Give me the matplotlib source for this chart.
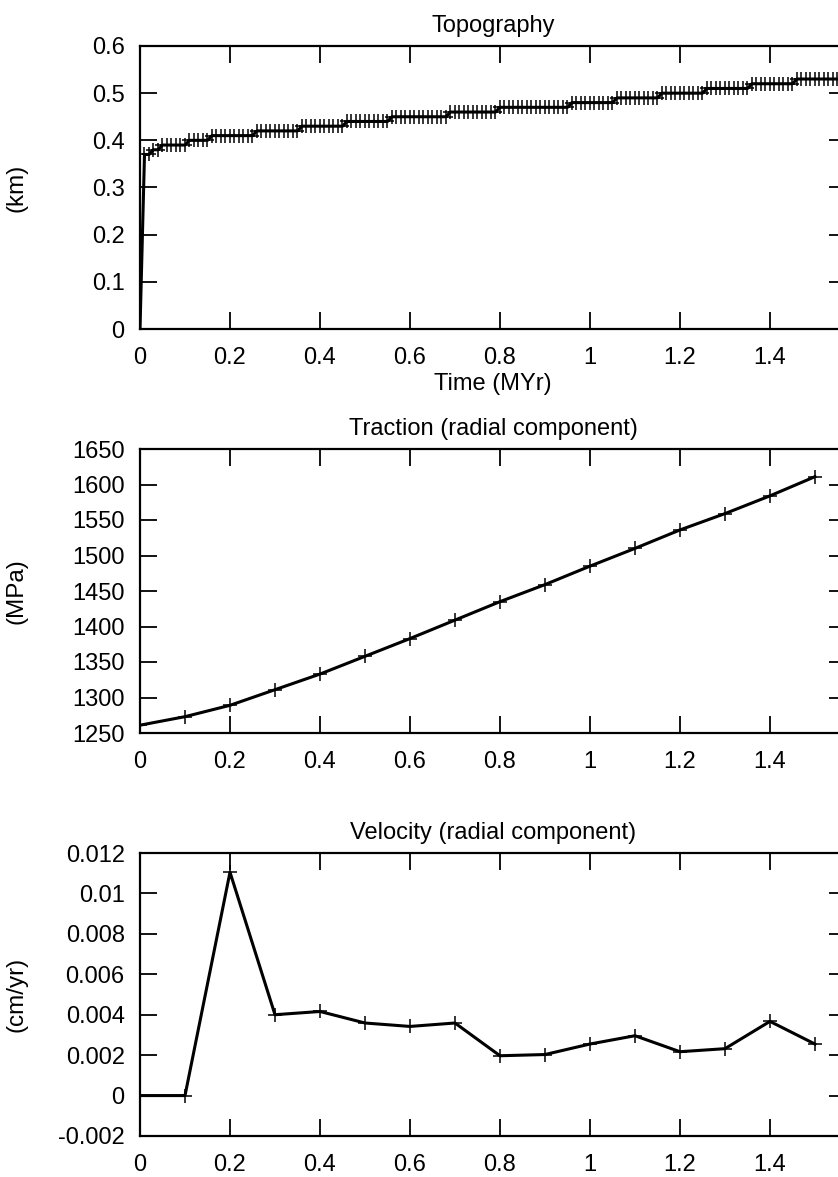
import matplotlib
matplotlib.use("Agg")
import matplotlib.pyplot as plt
from matplotlib.ticker import FuncFormatter, MultipleLocator

plt.rcParams['font.family'] = ['Liberation Sans', 'DejaVu Sans']

# ---------------- data ----------------
topo_time = [0.00, 0.01, 0.02, 0.03, 0.04, 0.05, 0.06, 0.07, 0.08, 0.09,
             0.10, 0.11, 0.12, 0.13, 0.14, 0.15, 0.16, 0.17, 0.18, 0.19,
             0.20, 0.21, 0.22, 0.23, 0.24, 0.25, 0.26, 0.27, 0.28, 0.29,
             0.30, 0.31, 0.32, 0.33, 0.34, 0.35, 0.36, 0.37, 0.38, 0.39,
             0.40, 0.41, 0.42, 0.43, 0.44, 0.45, 0.46, 0.47, 0.48, 0.49,
             0.50, 0.51, 0.52, 0.53, 0.54, 0.55, 0.56, 0.57, 0.58, 0.59,
             0.60, 0.61, 0.62, 0.63, 0.64, 0.65, 0.66, 0.67, 0.68, 0.69,
             0.70, 0.71, 0.72, 0.73, 0.74, 0.75, 0.76, 0.77, 0.78, 0.79,
             0.80, 0.81, 0.82, 0.83, 0.84, 0.85, 0.86, 0.87, 0.88, 0.89,
             0.90, 0.91, 0.92, 0.93, 0.94, 0.95, 0.96, 0.97, 0.98, 0.99,
             1.00, 1.01, 1.02, 1.03, 1.04, 1.05, 1.06, 1.07, 1.08, 1.09,
             1.10, 1.11, 1.12, 1.13, 1.14, 1.15, 1.16, 1.17, 1.18, 1.19,
             1.20, 1.21, 1.22, 1.23, 1.24, 1.25, 1.26, 1.27, 1.28, 1.29,
             1.30, 1.31, 1.32, 1.33, 1.34, 1.35, 1.36, 1.37, 1.38, 1.39,
             1.40, 1.41, 1.42, 1.43, 1.44, 1.45, 1.46, 1.47, 1.48, 1.49,
             1.50, 1.51, 1.52, 1.53, 1.54, 1.55, 1.56, 1.57]
topo_km = [0.00, 0.37, 0.37, 0.38, 0.38, 0.39, 0.39, 0.39, 0.39, 0.39,
           0.39, 0.40, 0.40, 0.40, 0.40, 0.40, 0.41, 0.41, 0.41, 0.41,
           0.41, 0.41, 0.41, 0.41, 0.41, 0.41, 0.42, 0.42, 0.42, 0.42,
           0.42, 0.42, 0.42, 0.42, 0.42, 0.42, 0.43, 0.43, 0.43, 0.43,
           0.43, 0.43, 0.43, 0.43, 0.43, 0.43, 0.44, 0.44, 0.44, 0.44,
           0.44, 0.44, 0.44, 0.44, 0.44, 0.44, 0.45, 0.45, 0.45, 0.45,
           0.45, 0.45, 0.45, 0.45, 0.45, 0.45, 0.45, 0.45, 0.45, 0.46,
           0.46, 0.46, 0.46, 0.46, 0.46, 0.46, 0.46, 0.46, 0.46, 0.46,
           0.47, 0.47, 0.47, 0.47, 0.47, 0.47, 0.47, 0.47, 0.47, 0.47,
           0.47, 0.47, 0.47, 0.47, 0.47, 0.47, 0.48, 0.48, 0.48, 0.48,
           0.48, 0.48, 0.48, 0.48, 0.48, 0.48, 0.49, 0.49, 0.49, 0.49,
           0.49, 0.49, 0.49, 0.49, 0.49, 0.49, 0.50, 0.50, 0.50, 0.50,
           0.50, 0.50, 0.50, 0.50, 0.50, 0.50, 0.51, 0.51, 0.51, 0.51,
           0.51, 0.51, 0.51, 0.51, 0.51, 0.51, 0.52, 0.52, 0.52, 0.52,
           0.52, 0.52, 0.52, 0.52, 0.52, 0.52, 0.53, 0.53, 0.53, 0.53,
           0.53, 0.53, 0.53, 0.53, 0.53, 0.53, 0.53, 0.53]

step_time = [0.0, 0.1, 0.2, 0.3, 0.4, 0.5, 0.6, 0.7, 0.8, 0.9,
             1.0, 1.1, 1.2, 1.3, 1.4, 1.5]
traction_mpa = [1261, 1273, 1289, 1311, 1333, 1358, 1383, 1409, 1435, 1459,
                1485, 1510, 1536, 1559, 1584, 1611]
velocity_cmyr = [0.0, 0.0, 0.01105, 0.0040, 0.00416, 0.00359, 0.00342, 0.00359,
                 0.00197, 0.00203, 0.00255, 0.00296, 0.00217, 0.00232, 0.00367,
                 0.00255]

titles = ["Topography", "Traction (radial component)", "Velocity (radial component)"]
ylabels = ["(km)", "(MPa)", "(cm/yr)"]
xlabel_top = "Time (MYr)"

# ---------------- figure ----------------
W, H = 838, 1177
fig = plt.figure(figsize=(W / 100, H / 100), dpi=100)

left_px, right_px = 140, 846
panels_px = [(46, 329), (449, 733), (853, 1136)]
xmax = 1.569

FS = 17

def fmt(v, pos):
    return "%g" % round(v, 6)

axes = []
for (top, bot) in panels_px:
    ax = fig.add_axes([left_px / W, 1 - bot / H, (right_px - left_px) / W, (bot - top) / H])
    axes.append(ax)

specs = [
    (topo_time, topo_km, (0, 0.6), 0.1),
    (step_time, traction_mpa, (1250, 1650), 50),
    (step_time, velocity_cmyr, (-0.002, 0.012), 0.002),
]

for ax, (xs, ys, ylim, ystep), title, ylab in zip(axes, specs, titles, ylabels):
    ax.plot(xs, ys, color='black', lw=2.2, marker='+', ms=10, mew=1.1, clip_on=True)
    ax.set_xlim(0, xmax)
    ax.set_ylim(*ylim)
    ax.xaxis.set_major_locator(MultipleLocator(0.2))
    ax.yaxis.set_major_locator(MultipleLocator(ystep))
    ax.xaxis.set_major_formatter(FuncFormatter(fmt))
    ax.yaxis.set_major_formatter(FuncFormatter(fmt))
    ax.tick_params(axis='both', direction='in', length=12, width=1.3, top=True, right=True,
                   labelsize=FS, colors='black')
    ax.tick_params(axis='x', pad=13)
    ax.tick_params(axis='y', pad=11)
    for sp in ax.spines.values():
        sp.set_linewidth(1.6)
    ax.set_title(title, fontsize=FS, pad=10)
    ax.set_ylabel(ylab, fontsize=FS + 0.5)
    ax.yaxis.set_label_coords((27 - left_px) / (right_px - left_px), 0.5)

axes[0].set_xlabel(xlabel_top, fontsize=FS, labelpad=3)

fig.savefig("out.png", dpi=100)
